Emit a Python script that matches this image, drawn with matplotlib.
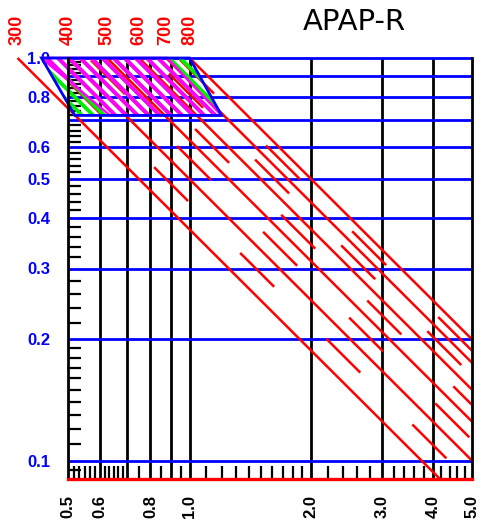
import numpy as np
import matplotlib
matplotlib.use("Agg")
import matplotlib.pyplot as plt
import matplotlib.transforms as mtransforms
from matplotlib.patches import Polygon
from matplotlib.ticker import NullFormatter

plt.rcParams['lines.scale_dashes'] = False
plt.rcParams['hatch.linewidth'] = 2.8
plt.rcParams['font.family'] = ['Liberation Sans', 'DejaVu Sans']

# axis ranges
x_min, x_max = 0.5, 5.0
y_min, y_max = 0.09, 1.0

# grid lines
x_grid = [0.6, 0.7, 0.8, 0.9, 1.0, 2.0, 3.0, 4.0]
y_grid = [0.1, 0.2, 0.3, 0.4, 0.5, 0.6, 0.7, 0.8, 0.9, 1.0]

# tick labels
x_ticks = [0.5, 0.6, 0.8, 1.0, 2.0, 3.0, 4.0, 5.0]
x_ticklabels = ['0.5', '0.6', '0.8', '1.0', '2.0', '3.0', '4.0', '5.0']
y_ticks = [0.1, 0.2, 0.3, 0.4, 0.5, 0.6, 0.8, 1.0]
y_ticklabels = ['0.1', '0.2', '0.3', '0.4', '0.5', '0.6', '0.8', '1.0']

# minor ticks
x_minor = [0.5167, 0.5333, 0.55, 0.5667, 0.5833,
           0.6167, 0.6333, 0.65, 0.6667, 0.6833,
           0.75, 0.85, 0.95,
           1.1, 1.2, 1.3, 1.4, 1.5, 1.6, 1.7, 1.8, 1.9,
           2.2, 2.4, 2.6, 2.8, 3.2, 3.4, 3.6, 3.8, 4.2, 4.4, 4.6, 4.8]
y_minor = [0.095,
           0.11, 0.12, 0.13, 0.14, 0.15, 0.16, 0.17, 0.18, 0.19,
           0.22, 0.24, 0.26, 0.28, 0.32, 0.34, 0.36, 0.38,
           0.42, 0.44, 0.46, 0.48, 0.52, 0.54, 0.56, 0.58,
           0.62, 0.64, 0.66, 0.68, 0.72, 0.74, 0.76, 0.78,
           0.82, 0.84, 0.86, 0.88, 0.92, 0.94, 0.96, 0.98]

# red lines: x * y = value / 800
ref_value = 800.0
solid_values = [300, 400, 500, 600, 700, 800]
dashed_values = [350, 450, 550, 650, 750]

# shaded regions
region_x = [0.43, 1.0, 1.2, 0.52]
region_y = [1.0, 1.0, 0.72, 0.72]
inner_x = [0.43, 0.88, 1.2, 0.635]
inner_y = [1.0, 1.0, 0.72, 0.72]

RED = '#ff0000'
BLUE = '#0000ff'

fig = plt.figure(figsize=(4.83, 5.2), dpi=100)
ax = fig.add_axes([68 / 483, 41 / 520, 404 / 483, 421 / 520])
ax.set_xscale('log')
ax.set_yscale('log')
ax.set_xlim(x_min, x_max)
ax.set_ylim(y_min, y_max)

# frame
ax.spines['top'].set_visible(False)
ax.spines['left'].set_color('black')
ax.spines['left'].set_linewidth(2.0)
ax.spines['right'].set_color('black')
ax.spines['right'].set_linewidth(2.0)
ax.spines['bottom'].set_color(RED)
ax.spines['bottom'].set_linewidth(2.4)
for s in ['left', 'right', 'bottom']:
    ax.spines[s].set_zorder(5)

# grid
ax.vlines(x_grid, y_min, y_max, colors='black', linewidth=2.0, zorder=1, clip_on=False)
ax.hlines(y_grid, x_min, x_max, colors=BLUE, linewidth=2.0, zorder=1, clip_on=False)

# ticks
ax.set_xticks(x_ticks, x_ticklabels)
ax.set_yticks(y_ticks, y_ticklabels)
ax.set_xticks(x_minor, minor=True)
ax.set_yticks(y_minor, minor=True)
ax.xaxis.set_minor_formatter(NullFormatter())
ax.yaxis.set_minor_formatter(NullFormatter())
ax.tick_params(which='major', length=0)
ax.tick_params(axis='x', which='major', pad=11.5, labelsize=12, labelrotation=90)
ax.tick_params(axis='y', which='major', pad=29.5, labelsize=12, labelcolor=BLUE)
ax.tick_params(which='minor', direction='in', length=9.4, width=1.6, color='black')
for lab in ax.get_xticklabels():
    lab.set_fontweight('bold')
for lab in ax.get_yticklabels():
    lab.set_fontweight('bold')
    lab.set_horizontalalignment('left')

# red solid lines with labels on top
label_tr = mtransforms.offset_copy(ax.transData, fig=fig, y=9.5, units='points')
for v in solid_values:
    k = v / ref_value
    x0, y0 = k / y_max, y_max
    if k / y_min <= x_max:
        x1, y1 = k / y_min, y_min
    else:
        x1, y1 = x_max, k / x_max
    ax.plot([x0, x1], [y0, y1], color=RED, linewidth=1.8, zorder=3,
            clip_on=False, solid_capstyle='butt')
    ax.text(x0, y0, str(v), transform=label_tr, rotation=90, ha='center',
            va='bottom', color=RED, fontsize=13, fontweight='bold')

# red dashed lines in between
dash_offsets = [63.7, 85.2, 15.1, 71.4, 85.8]
for v, off in zip(dashed_values, dash_offsets):
    k = v / ref_value
    x0, y0 = k / y_max, y_max
    if k / y_min <= x_max:
        x1, y1 = k / y_min, y_min
    else:
        x1, y1 = x_max, k / x_max
    ax.plot([x0, x1], [y0, y1], color=RED, linewidth=1.8, zorder=3,
            linestyle=(off, (34.6, 52.9)), dash_capstyle='butt')

# hatched regions
ax.add_patch(Polygon(list(zip(region_x, region_y)), closed=True, facecolor='none',
                     edgecolor='#00ee00', linewidth=0, hatch='\\\\\\', zorder=4, clip_on=False))
ax.add_patch(Polygon(list(zip(inner_x, inner_y)), closed=True, facecolor='none',
                     edgecolor='#ff00ff', linewidth=1.8, hatch='\\\\\\', zorder=4.2, clip_on=False))
ax.add_patch(Polygon(list(zip(region_x, region_y)), closed=True, facecolor='none',
                     edgecolor=BLUE, linewidth=2.0, zorder=4.5, clip_on=False))

fig.text(354 / 483, 1 - 22 / 520, 'APAP-R', ha='center', va='center',
         fontsize=21, family='DejaVu Sans', color='black')

fig.savefig('out.png', dpi=100)
